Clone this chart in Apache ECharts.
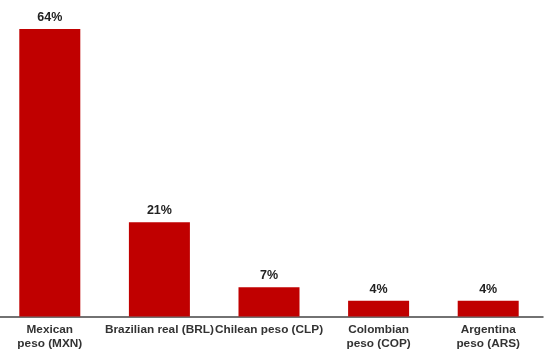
<!DOCTYPE html>
<html>
<head>
<meta charset="utf-8">
<script src="https://cdn.jsdelivr.net/npm/echarts@6/dist/echarts.min.js"></script>
<style>html,body{margin:0;padding:0;background:#fff;}#c{width:554px;height:364px;}</style>
</head>
<body>
<div id="c"></div>
<script>
const categories = ["Mexican\npeso (MXN)", "Brazilian real (BRL)", "Chilean peso (CLP)", "Colombian\npeso (COP)", "Argentina\npeso (ARS)"];
const shares = [64, 21, 6.5, 3.5, 3.5];
const shareLabels = ["64%", "21%", "7%", "4%", "4%"];

const chart = echarts.init(document.getElementById('c'), null, {renderer: 'canvas'});
chart.setOption({
  animation: false,
  backgroundColor: '#fff',
  grid: {left: -5, width: 548, top: 29, bottom: 47.5, containLabel: false, outerBoundsMode: 'none'},
  xAxis: {
    type: 'category',
    data: categories,
    axisLine: {show: true, lineStyle: {color: '#444', width: 1.5}},
    axisTick: {show: false},
    axisLabel: {
      interval: 0,
      margin: 6,
      color: '#333',
      fontFamily: 'Liberation Sans, Arial, sans-serif',
      fontWeight: 'bold',
      fontSize: 11.8,
      lineHeight: 14
    }
  },
  yAxis: {
    type: 'value', min: 0, max: 64,
    show: false,
    splitLine: {show: false}
  },
  series: [{
    type: 'bar',
    data: shares,
    barWidth: 61,
    itemStyle: {color: '#C00000'},
    label: {
      show: true,
      position: 'top',
      distance: 5,
      color: '#222',
      fontFamily: 'Liberation Sans, Arial, sans-serif',
      fontWeight: 'bold',
      fontSize: 12.5,
      formatter: p => shareLabels[p.dataIndex]
    }
  }]
});
</script>
</body>
</html>
